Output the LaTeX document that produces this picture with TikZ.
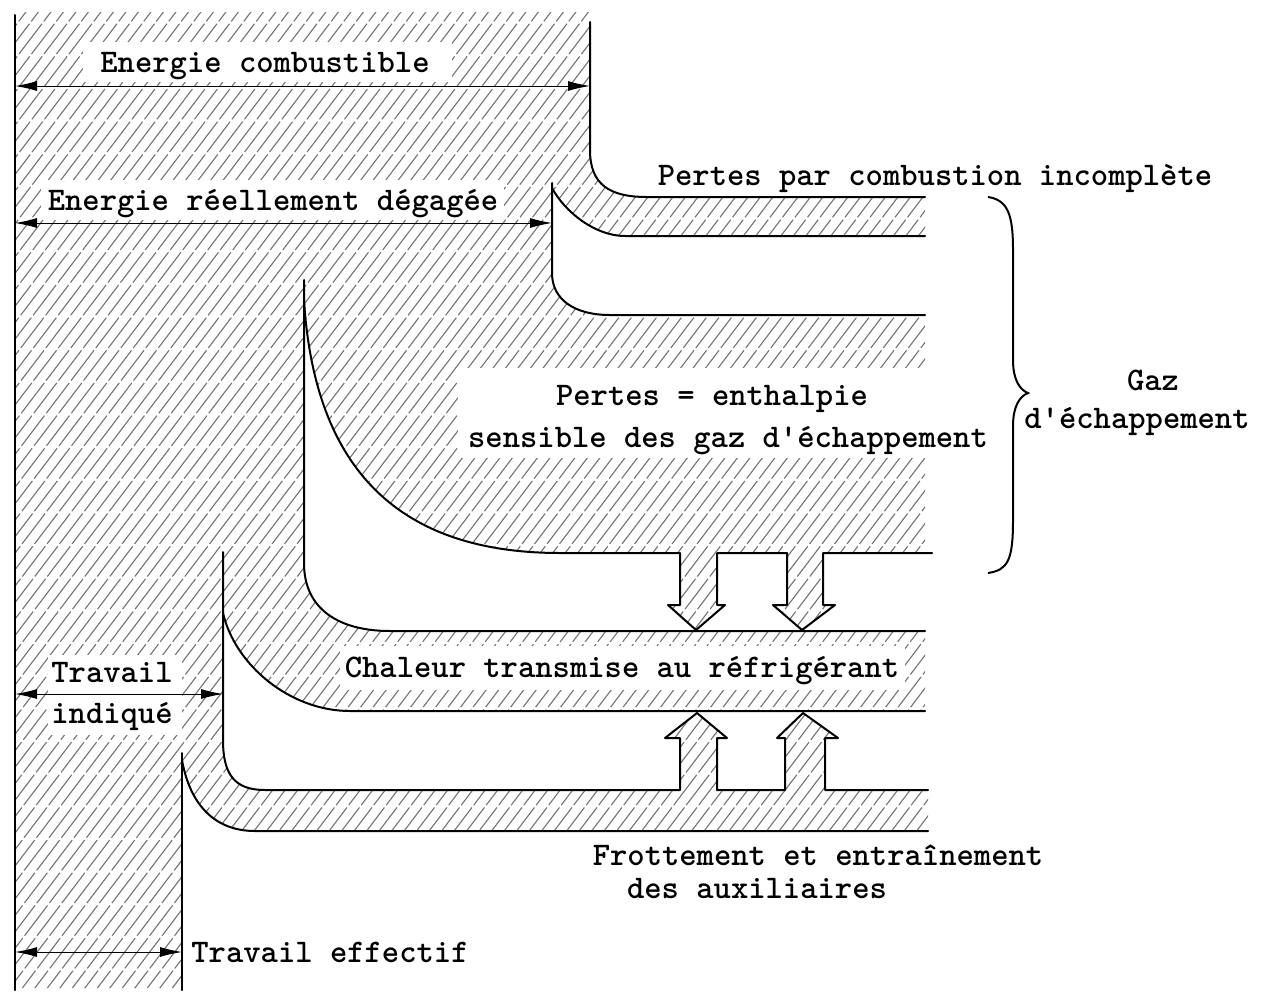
\documentclass[tikz,border=0pt]{standalone}
\usetikzlibrary{arrows.meta}
\begin{document}
\begin{tikzpicture}[x=1pt,y=-1pt,
  outline/.style={line width=2pt, line join=round, line cap=round},
  hatchline/.style={line width=1.1pt, black!55, dash pattern=on 38pt off 3pt},
  dim/.style={line width=1pt, {Latex[length=22pt,width=10pt]}-{Latex[length=22pt,width=10pt]}},
  lbl/.style={font=\fontsize{33}{40}\selectfont\ttfamily\bfseries, inner sep=0pt, anchor=base},
  brace/.style={line width=2pt}]
\useasboundingbox (0,0) rectangle (1263,1001);
% ---------- hatching ----------
\begin{scope}
\clip (15,12) -- (590,12) -- (590,150) .. controls (590,185) and (610,197) .. (647,197) -- (925,197) -- (925,236) -- (625,236) .. controls (595,236) and (565,212) .. (552,188) -- (552,273) .. controls (552,300) and (575,315) .. (610,315) -- (925,315) -- (925,553) -- (823,553) -- (823,605) -- (835,605) -- (802,630) -- (773,605) -- (787,605) -- (787,553) -- (717,553) -- (717,605) -- (725,605) -- (696,630) -- (668,605) -- (680,605) -- (680,553) -- (560,553) .. controls (390,553) and (314,460) .. (304,300) -- (304,563) .. controls (304,610) and (340,631) .. (390,631) -- (925,631) -- (925,711) -- (350,711) .. controls (290,711) and (235,665) .. (223,613) -- (223,740) .. controls (223,775) and (235,790) .. (265,790) -- (680,790) -- (680,738) -- (665,738) -- (697,713) -- (727,738) -- (717,738) -- (717,790) -- (785,790) -- (785,738) -- (777,738) -- (803,713) -- (838,738) -- (825,738) -- (825,790) -- (928,790) -- (928,831) -- (255,831) .. controls (215,831) and (190,805) .. (182,760) -- (182,988) -- (15,988) -- cycle;
\foreach \i in {-800,-787.5,...,940} \draw[hatchline] (\i,1001) -- ++(760,-1001);
\end{scope}
% ---------- white label backgrounds ----------
\fill[white] (83,42) rectangle (452,82);
\fill[white] (41,180) rectangle (504,220);
\fill[white] (458,368) rectangle (927,458);
\fill[white] (340,646) rectangle (905,690);
\fill[white] (48,655) rectangle (182,735);
% ---------- outlines ----------
\draw[outline] (15,15) -- (15,990);
\draw[outline] (590,22) -- (590,150) .. controls (590,185) and (610,197) .. (647,197) -- (925,197);
\draw[outline] (552,183) -- (552,273) .. controls (552,300) and (575,315) .. (610,315) -- (925,315);
\draw[outline] (552,188) .. controls (565,212) and (595,236) .. (625,236) -- (925,236);
\draw[outline] (304,280) -- (304,563) .. controls (304,610) and (340,631) .. (390,631) -- (925,631);
\draw[outline] (304,300) .. controls (314,460) and (390,553) .. (560,553) -- (680,553) -- (680,605) -- (668,605) -- (696,630) -- (725,605) -- (717,605) -- (717,553) -- (787,553) -- (787,605) -- (773,605) -- (802,630) -- (835,605) -- (823,605) -- (823,553) -- (932,553);
\draw[outline] (223,552) -- (223,740) .. controls (223,775) and (235,790) .. (265,790) -- (680,790) -- (680,738) -- (665,738) -- (697,713) -- (727,738) -- (717,738) -- (717,790) -- (785,790) -- (785,738) -- (777,738) -- (803,713) -- (838,738) -- (825,738) -- (825,790) -- (928,790);
\draw[outline] (223,613) .. controls (235,665) and (290,711) .. (350,711) -- (925,711);
\draw[outline] (182,753) -- (182,990);
\draw[outline] (182,760) .. controls (190,805) and (215,831) .. (255,831) -- (928,831);
% ---------- brace ----------
\draw[brace] (988,197) .. controls (1008,200) and (1013,215) .. (1013,250) -- (1013,360) .. controls (1013,380) and (1020,390) .. (1028,393) .. controls (1020,396) and (1013,406) .. (1013,426) -- (1013,520) .. controls (1013,560) and (1008,570) .. (988,573);
% ---------- labels ----------
\node[lbl] (ec) at (265,72) {Energie combustible};
\node[lbl] (er) at (273,210) {Energie réellement dégagée};
\node[lbl] (pc) at (935,185) {Pertes par combustion incomplète};
\node[lbl] (pe1) at (712,405) {Pertes = enthalpie};
\node[lbl] (pe2) at (728,447) {sensible des gaz d'échappement};
\node[lbl] (gz1) at (1153,390) {Gaz};
\node[lbl] (gz2) at (1137,428) {d'échappement};
\node[lbl] (ch) at (622,677) {Chaleur transmise au réfrigérant};
\node[lbl] (ti1) at (112,682) {Travail};
\node[lbl] (ti2) at (112,723) {indiqué};
\node[lbl] (fr1) at (818,865) {Frottement et entraînement};
\node[lbl] (fr2) at (757,898) {des auxiliaires};
\node[lbl] (te) at (330,962) {Travail effectif};
% ---------- dimension arrows ----------
\coordinate (ecL) at (15,86);  \coordinate (ecR) at (590,86);
\coordinate (erL) at (15,223); \coordinate (erR) at (552,223);
\coordinate (tiL) at (15,694); \coordinate (tiR) at (223,694);
\coordinate (teL) at (15,952); \coordinate (teR) at (182,952);
\draw[dim] (ecL) -- (ecR);
\draw[dim] (erL) -- (erR);
\draw[dim] (tiL) -- (tiR);
\draw[dim] (teL) -- (teR);
\end{tikzpicture}
\end{document}
